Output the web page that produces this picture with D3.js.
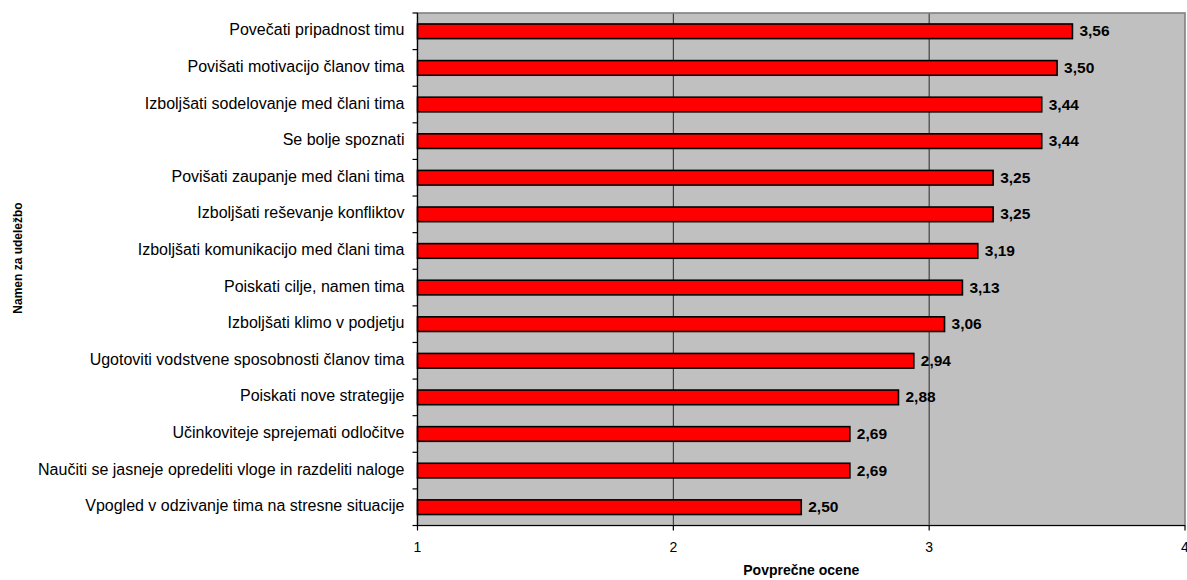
<!DOCTYPE html>
<html>
<head>
<meta charset="utf-8">
<script src="https://cdn.jsdelivr.net/npm/d3@7/dist/d3.min.js"></script>
<style>
  html, body { margin: 0; padding: 0; background: #fff; }
  svg { display: block; font-family: "Liberation Sans", Arial, sans-serif; }
</style>
</head>
<body>
<svg id="chart" width="1187" height="580"></svg>
<script>
// Reasons for attending, top to bottom
const categories = [
  "Povečati pripadnost timu",
  "Povišati motivacijo članov tima",
  "Izboljšati sodelovanje med člani tima",
  "Se bolje spoznati",
  "Povišati zaupanje med člani tima",
  "Izboljšati reševanje konfliktov",
  "Izboljšati komunikacijo med člani tima",
  "Poiskati cilje, namen tima",
  "Izboljšati klimo v podjetju",
  "Ugotoviti vodstvene sposobnosti članov tima",
  "Poiskati nove strategije",
  "Učinkoviteje sprejemati odločitve",
  "Naučiti se jasneje opredeliti vloge in razdeliti naloge",
  "Vpogled v odzivanje tima na stresne situacije"
];
// Average scores
const scores = [3.56, 3.50, 3.44, 3.44, 3.25, 3.25, 3.19, 3.13, 3.06, 2.94, 2.88, 2.69, 2.69, 2.50];
const xTicks = [1, 2, 3, 4];
const xTitle = "Povprečne ocene";
const yTitle = "Namen za udeležbo";

const svg = d3.select("#chart");
const plot = { left: 417.5, right: 1185, top: 13, bottom: 525.5 };

const x = d3.scaleLinear().domain([1, 4]).range([plot.left, plot.right]);
const y = d3.scaleBand().domain(categories).range([plot.top, plot.bottom]).paddingInner(0.6).paddingOuter(0.3);
const yBand = d3.scaleBand().domain(categories).range([plot.top, plot.bottom]);

// plot background
svg.append("rect")
  .attr("x", plot.left).attr("y", plot.top)
  .attr("width", plot.right - plot.left).attr("height", plot.bottom - plot.top)
  .attr("fill", "#c0c0c0");

// vertical gridlines
svg.append("g").selectAll("line")
  .data(xTicks.slice(1, -1))
  .join("line")
  .attr("x1", d => x(d)).attr("x2", d => x(d))
  .attr("y1", plot.top).attr("y2", plot.bottom)
  .attr("stroke", "#2a2a2a").attr("stroke-width", 1);

// plot border
svg.append("rect")
  .attr("x", plot.left).attr("y", plot.top)
  .attr("width", plot.right - plot.left).attr("height", plot.bottom - plot.top)
  .attr("fill", "none").attr("stroke", "#808080").attr("stroke-width", 1.6);

// bars
svg.append("g").selectAll("rect")
  .data(categories)
  .join("rect")
  .attr("x", x(1))
  .attr("y", d => y(d))
  .attr("width", (d, i) => x(scores[i]) - x(1))
  .attr("height", y.bandwidth())
  .attr("fill", "#ff0000")
  .attr("stroke", "#000").attr("stroke-width", 1.6);

// value labels
svg.append("g").selectAll("text")
  .data(categories)
  .join("text")
  .attr("x", (d, i) => x(scores[i]) + 7)
  .attr("y", d => y(d) + y.bandwidth() / 2 + 5)
  .attr("font-size", 15.5).attr("font-weight", "bold").attr("fill", "#000")
  .text((d, i) => d3.format(".2f")(scores[i]).replace(".", ","));

// y axis
const yAxis = svg.append("g").attr("transform", `translate(${plot.left},0)`);
yAxis.append("line")
  .attr("x1", 0).attr("x2", 0).attr("y1", plot.top).attr("y2", plot.bottom)
  .attr("stroke", "#000").attr("stroke-width", 1.2);
yAxis.selectAll("line.tick")
  .data(categories.concat([null]))
  .join("line").attr("class", "tick")
  .attr("x1", -5).attr("x2", 0)
  .attr("y1", (d, i) => plot.top + i * yBand.step())
  .attr("y2", (d, i) => plot.top + i * yBand.step())
  .attr("stroke", "#000").attr("stroke-width", 1.2);
yAxis.selectAll("text")
  .data(categories)
  .join("text")
  .attr("x", -13)
  .attr("y", d => yBand(d) + yBand.bandwidth() / 2 + 4)
  .attr("text-anchor", "end")
  .attr("font-size", 16).attr("fill", "#000")
  .text(d => d);

// x axis
const xAxisG = svg.append("g").attr("transform", `translate(0,${plot.bottom})`);
xAxisG.append("line")
  .attr("x1", plot.left).attr("x2", plot.right)
  .attr("stroke", "#000").attr("stroke-width", 1.2);
xAxisG.selectAll("line.tick")
  .data(xTicks)
  .join("line").attr("class", "tick")
  .attr("x1", d => x(d)).attr("x2", d => x(d))
  .attr("y1", 0).attr("y2", 5)
  .attr("stroke", "#000").attr("stroke-width", 1.2);
xAxisG.selectAll("text")
  .data(xTicks)
  .join("text")
  .attr("x", d => x(d)).attr("y", 26.5)
  .attr("text-anchor", "middle")
  .attr("font-size", 14).attr("fill", "#000")
  .text(d => d);

// axis titles
svg.append("text")
  .attr("x", (plot.left + plot.right) / 2).attr("y", 575)
  .attr("text-anchor", "middle")
  .attr("font-size", 14).attr("font-weight", "bold")
  .text(xTitle);
svg.append("text")
  .attr("transform", `translate(22,258) rotate(-90)`)
  .attr("text-anchor", "middle")
  .attr("font-size", 12).attr("font-weight", "bold")
  .text(yTitle);
</script>
</body>
</html>
